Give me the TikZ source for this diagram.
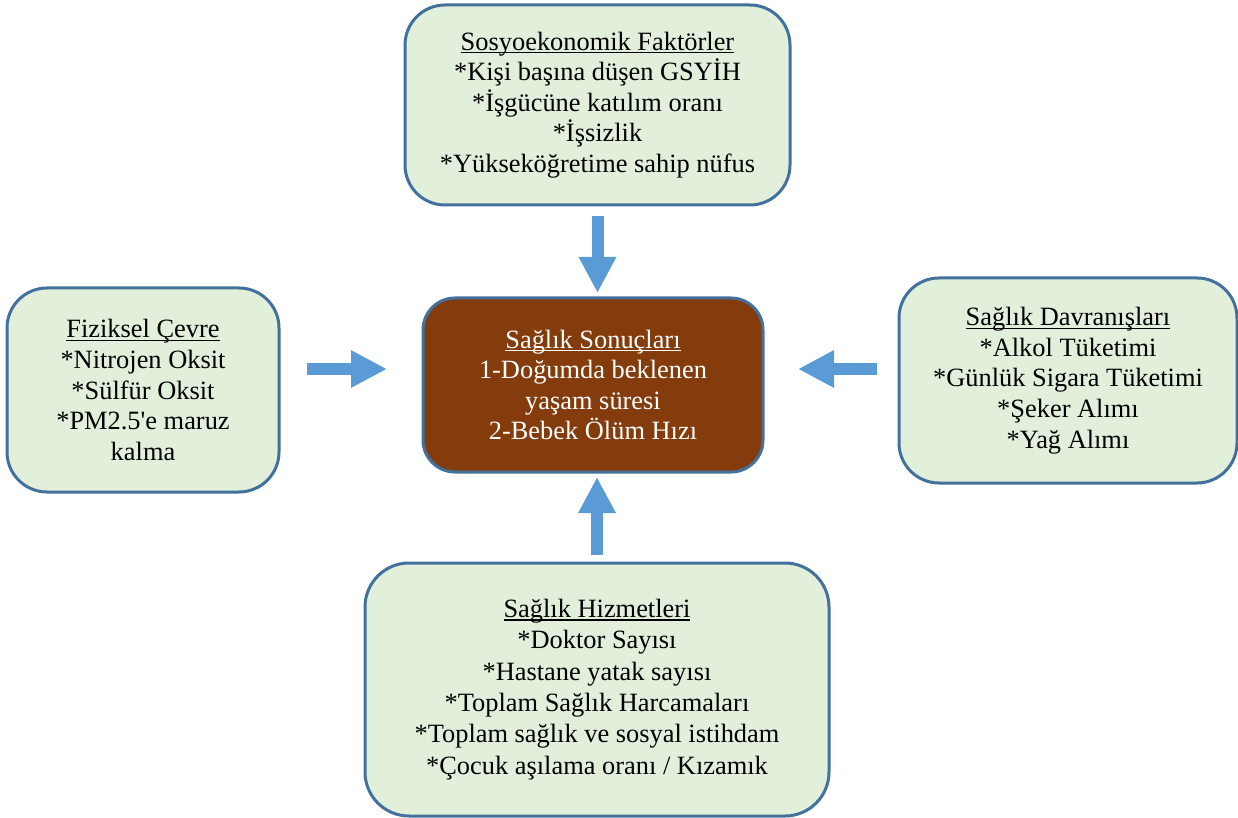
\documentclass[tikz,border=0pt]{standalone}
\usepackage{fontspec}
\setmainfont{Liberation Serif}
\usetikzlibrary{arrows.meta}
\definecolor{acikyesil}{HTML}{E2EFDA}
\definecolor{cerceve}{HTML}{41719C}
\definecolor{kahve}{HTML}{843C0C}
\definecolor{okmavi}{HTML}{5B9BD5}
% baslik alti cizgisi (alt uzantilardan bagimsiz)
\newcommand{\baslik}[1]{\leavevmode\setbox0\hbox{#1}\rlap{\rule[-1.6pt]{\wd0}{0.6pt}}\box0}
\tikzset{
    kutu/.style={draw=cerceve, line width=1.5pt, fill=acikyesil, rounded corners=20pt,
        align=center, inner sep=0pt, outer sep=0pt, font=\fontsize{13.2}{15.3}\selectfont},
    blokok/.style={draw=okmavi, line width=6pt, -{Triangle[length=18pt,width=17.5pt]}}
}
\begin{document}
\begin{tikzpicture}[x=0.5pt, y=-0.5pt]
            \useasboundingbox (0,0) rectangle (1238,818);
            \node[kutu, minimum width=192.5pt, minimum height=100pt] (ust) at (597.5,105)
                {\baslik{Sosyoekonomik Faktörler}\\*Kişi başına düşen GSYİH\\*İşgücüne katılım oranı\\*İşsizlik\\*Yükseköğretime sahip nüfus};
            \node[kutu, minimum width=136pt, minimum height=102pt] (sol) at (143,390)
                {\baslik{Fiziksel Çevre}\\*Nitrojen Oksit\\*Sülfür Oksit\\*PM2.5\textquotesingle e maruz\\kalma};
            \node[kutu, fill=kahve, text=white, rounded corners=16pt, minimum width=170pt, minimum height=87pt] (sonuc) at (593,385)
                {\baslik{Sağlık Sonuçları}\\1-Doğumda beklenen\\yaşam süresi\\2-Bebek Ölüm Hızı};
            \node[kutu, minimum width=169pt, minimum height=102.5pt] (sag) at (1068,380.5)
                {\baslik{Sağlık Davranışları}\\*Alkol Tüketimi\\*Günlük Sigara Tüketimi\\*Şeker Alımı\\*Yağ Alımı};
            \node[kutu, rounded corners=22pt, minimum width=232pt, minimum height=126.5pt,
                font=\fontsize{13.2}{15.7}\selectfont] (alt) at (597,689.5)
                {\baslik{Sağlık Hizmetleri}\\*Doktor Sayısı\\*Hastane yatak sayısı\\*Toplam Sağlık Harcamaları\\*Toplam sağlık ve sosyal istihdam\\*Çocuk aşılama oranı / Kızamık};
            % bloklar arasi oklar
            \draw[blokok, shorten <=5.5pt, shorten >=2.5pt] (ust.south) -- (ust.south |- sonuc.north);
            \draw[blokok, shorten <=4pt, shorten >=2.5pt] (alt.north) -- (alt.north |- sonuc.south);
            \draw[blokok, shorten <=14pt, shorten >=18pt] ([yshift=10.5pt]sol.east) -- ([yshift=8pt]sonuc.west);
            \draw[blokok, shorten <=11pt, shorten >=17.5pt] ([yshift=5.75pt]sag.west) -- ([yshift=8pt]sonuc.east);
        \end{tikzpicture}
\end{document}
